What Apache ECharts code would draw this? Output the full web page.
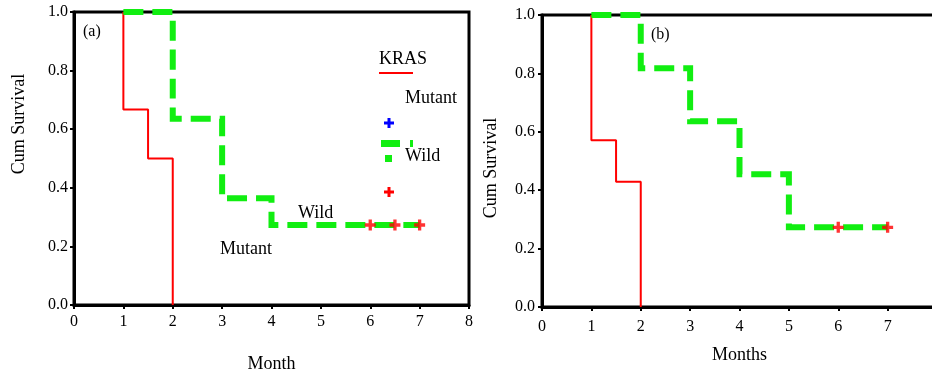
<!DOCTYPE html>
<html>
<head>
<meta charset="utf-8">
<script src="https://cdn.jsdelivr.net/npm/echarts@6/dist/echarts.min.js"></script>
<style>html,body{margin:0;padding:0;background:#fff;}#c{width:932px;height:372px;}</style>
</head>
<body>
<div id="c"></div>
<script>
// Panel (a)
const aMutantTimes = [1, 1, 1.5, 2];
const aMutantSurv = [1, 0.667, 0.5, 0];
const aWildTimes = [1, 2, 3, 4, 7];
const aWildSurv = [1, 0.636, 0.364, 0.273, 0.273];
const aCensorTimes = [6, 6.5, 7];
const aCensorSurv = [0.273, 0.273, 0.273];
// Panel (b)
const bMutantTimes = [1, 1, 1.5, 2];
const bMutantSurv = [1, 0.571, 0.429, 0];
const bWildTimes = [1, 2, 3, 4, 5, 7];
const bWildSurv = [1, 0.818, 0.636, 0.455, 0.273, 0.273];
const bCensorTimes = [6, 7];
const bCensorSurv = [0.273, 0.273];
// Axis settings / labels
const xMin = 0, xMax = 8, xStep = 1;
const yMin = 0, yMax = 1, yStep = 0.2;
const xTitleA = 'Month', xTitleB = 'Months', yTitle = 'Cum Survival';
const panelLabels = ['(a)', '(b)'];
const legendTitle = 'KRAS';
const groupNames = ['Mutant', 'Wild'];

const zip = (xs, ys) => xs.map((x, i) => [x, ys[i]]);
const FONT = 'Liberation Serif';
const RED = '#ff0000', GREEN = '#11ee11', BLUE = '#0000ff';
const plusPath = 'path://M3.5,0h3v3.5h3.5v3h-3.5v3.5h-3v-3.5h-3.5v-3h3.5z';

function xAxisCfg(gi, name, gap, margin) {
  return {
    type: 'value', gridIndex: gi, min: xMin, max: xMax, interval: xStep,
    name: name, nameLocation: 'middle', nameGap: gap,
    nameTextStyle: { fontFamily: FONT, fontSize: 18, color: '#000' },
    axisLine: { show: true, onZero: false, lineStyle: { color: '#000', width: 3 } },
    axisTick: { show: true, length: 4, lineStyle: { color: '#000', width: 2 } },
    axisLabel: { fontFamily: FONT, fontSize: 16, color: '#000', margin: margin, hideOverlap: false },
    splitLine: { show: false }
  };
}
function yAxisCfg(gi, gap, pad, margin) {
  return {
    type: 'value', gridIndex: gi, min: yMin, max: yMax, interval: yStep,
    name: yTitle, nameLocation: 'middle', nameGap: gap,
    nameTextStyle: { fontFamily: FONT, fontSize: 18, color: '#000', padding: pad },
    axisLine: { show: true, lineStyle: { color: '#000', width: 3 } },
    axisTick: { show: true, length: 4, lineStyle: { color: '#000', width: 2 } },
    axisLabel: { fontFamily: FONT, fontSize: 16, color: '#000', margin: margin,
      formatter: v => v.toFixed(1) },
    splitLine: { show: false }
  };
}
function wildSeries(gi, data) {
  return { type: 'line', xAxisIndex: gi, yAxisIndex: gi, step: 'end', data: data,
    symbol: 'none', z: 3, clip: false,
    lineStyle: { color: GREEN, width: 6, type: [20, 9], cap: 'butt', join: 'miter' } };
}
function mutantSeries(gi, data) {
  return { type: 'line', xAxisIndex: gi, yAxisIndex: gi, step: 'end', data: data,
    symbol: 'none', z: 2, lineStyle: { color: RED, width: 2 } };
}
function censorSeries(gi, data) {
  return { type: 'scatter', xAxisIndex: gi, yAxisIndex: gi, data: data,
    symbol: plusPath, symbolSize: 11, z: 5, itemStyle: { color: RED } };
}
function txt(x, y, t, size) {
  return { type: 'text', x: x, y: y, z: 10,
    style: { text: t, fontFamily: FONT, fontSize: size, fill: '#000', verticalAlign: 'middle' } };
}
function plus(cx, cy, color) {
  return [
    { type: 'rect', z: 10, shape: { x: cx - 5, y: cy - 1.5, width: 10, height: 3 }, style: { fill: color } },
    { type: 'rect', z: 10, shape: { x: cx - 1.5, y: cy - 5, width: 3, height: 10 }, style: { fill: color } }
  ];
}

const chart = echarts.init(document.getElementById('c'), null, { renderer: 'canvas' });
chart.setOption({
  backgroundColor: '#fff',
  animation: false,
  grid: [
    { left: 74, top: 12, width: 395, height: 293, outerBoundsMode: 'none', containLabel: false,
      show: true, borderColor: '#000', borderWidth: 3, backgroundColor: 'transparent' },
    { left: 542, top: 15, width: 395, height: 292, outerBoundsMode: 'none', containLabel: false,
      show: true, borderColor: '#000', borderWidth: 3, backgroundColor: 'transparent' }
  ],
  xAxis: [xAxisCfg(0, xTitleA, 50, 9), xAxisCfg(1, xTitleB, 39, 12)],
  yAxis: [yAxisCfg(0, 46, [0, 0, 0, 69], 6), yAxisCfg(1, 42, [0, 14, 0, 0], 7)],
  series: [
    mutantSeries(0, zip(aMutantTimes, aMutantSurv)),
    wildSeries(0, zip(aWildTimes, aWildSurv)),
    censorSeries(0, zip(aCensorTimes, aCensorSurv)),
    mutantSeries(1, zip(bMutantTimes, bMutantSurv)),
    wildSeries(1, zip(bWildTimes, bWildSurv)),
    censorSeries(1, zip(bCensorTimes, bCensorSurv))
  ],
  graphic: [
    txt(83, 32, panelLabels[0], 16),
    txt(651, 35, panelLabels[1], 16),
    txt(379, 59, legendTitle, 18),
    { type: 'line', z: 10, shape: { x1: 379, y1: 73, x2: 413, y2: 73 }, style: { stroke: RED, lineWidth: 2 } },
    txt(405, 98, groupNames[0], 18),
    ...plus(389, 123, BLUE),
    { type: 'rect', z: 9, shape: { x: 381, y: 140, width: 19, height: 7 }, style: { fill: GREEN } },
    { type: 'rect', z: 9, shape: { x: 410, y: 140, width: 3, height: 7 }, style: { fill: GREEN } },
    { type: 'rect', z: 9, shape: { x: 385, y: 155, width: 7, height: 7 }, style: { fill: GREEN } },
    txt(405, 156, groupNames[1], 18),
    ...plus(389, 192, RED),
    txt(298, 213, groupNames[1], 18),
    txt(220, 249, groupNames[0], 18)
  ]
});
</script>
</body>
</html>
